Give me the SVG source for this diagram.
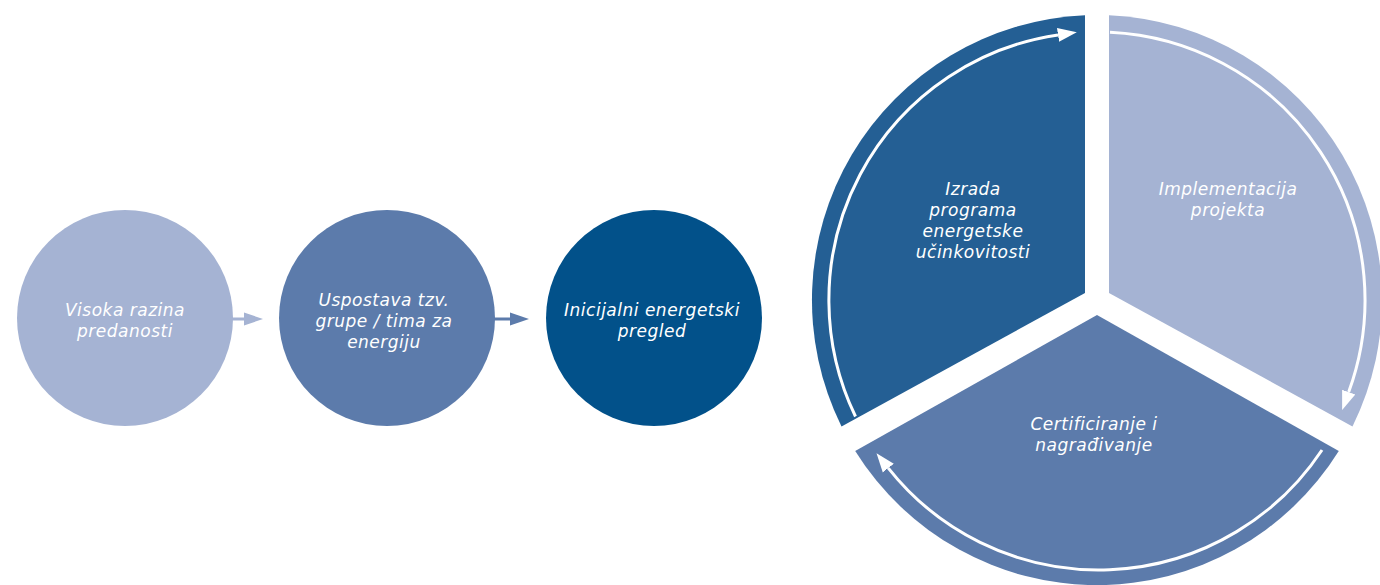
<svg xmlns="http://www.w3.org/2000/svg" width="1380" height="585" viewBox="0 0 1380 585">
<style>
.t{font-family:"DejaVu Sans","Open Sans","Liberation Sans",sans-serif;font-style:italic;font-size:17px;letter-spacing:0.5px;fill:#ffffff;text-anchor:middle}
.ring{fill:none;stroke:#ffffff;stroke-width:3}
</style>
<defs>
<marker id="ah" markerUnits="userSpaceOnUse" markerWidth="20" markerHeight="16" refX="0" refY="8" orient="auto" viewBox="0 0 20 16">
<path d="M0,1 L19,8 L0,15 Z" fill="#ffffff"/>
</marker>
</defs>
<rect width="1380" height="585" fill="#ffffff"/>
<g id="connectors">
<line x1="230" y1="319" x2="246" y2="319" stroke="#a5b3d3" stroke-width="3"/>
<path d="M244,312.5 L263,319 L244,325.5 Z" fill="#a5b3d3"/>
<line x1="492" y1="319" x2="512" y2="319" stroke="#5c7bab" stroke-width="3"/>
<path d="M510,312.5 L529,319 L510,325.5 Z" fill="#5c7bab"/>
</g>
<g id="node-visoka">
<circle cx="125" cy="318" r="108" fill="#a5b3d3"/>
<text class="t" x="125" y="316">Visoka razina</text>
<text class="t" x="125" y="337">predanosti</text>
</g>
<g id="node-uspostava">
<circle cx="387" cy="318" r="108" fill="#5c7bab"/>
<text class="t" x="384" y="306">Uspostava tzv.</text>
<text class="t" x="384" y="327">grupe / tima za</text>
<text class="t" x="384" y="348">energiju</text>
</g>
<g id="node-inicijalni">
<circle cx="654" cy="318" r="108" fill="#02518a"/>
<text class="t" x="652" y="316">Inicijalni energetski</text>
<text class="t" x="652" y="337">pregled</text>
</g>
<g id="node-izrada">
<path d="M1085,293 L1085,15.3 A285,285 0 0 0 841.5,426.4 Z" fill="#245f94"/>
<path class="ring" d="M855.5,416.5 A268,268 0 0 1 1058,34.9" marker-end="url(#ah)"/>
<text class="t" x="973" y="195">Izrada</text>
<text class="t" x="973" y="216">programa</text>
<text class="t" x="973" y="237">energetske</text>
<text class="t" x="973" y="258">učinkovitosti</text>
</g>
<g id="node-implementacija">
<path d="M1109,293 L1109,15.3 A285,285 0 0 1 1352.5,426.4 Z" fill="#a5b3d3"/>
<path class="ring" d="M1110,32.3 A268,268 0 0 1 1348.7,392.1" marker-end="url(#ah)"/>
<text class="t" x="1228" y="195">Implementacija</text>
<text class="t" x="1228" y="216">projekta</text>
</g>
<g id="node-certificiranje">
<path d="M1097,315 L855.2,451 A285,285 0 0 0 1338.8,451 Z" fill="#5c7bab"/>
<path class="ring" d="M1322,450 A268,268 0 0 1 888.3,468.1" marker-end="url(#ah)"/>
<text class="t" x="1094" y="430">Certificiranje i</text>
<text class="t" x="1094" y="451">nagrađivanje</text>
</g>
</svg>
